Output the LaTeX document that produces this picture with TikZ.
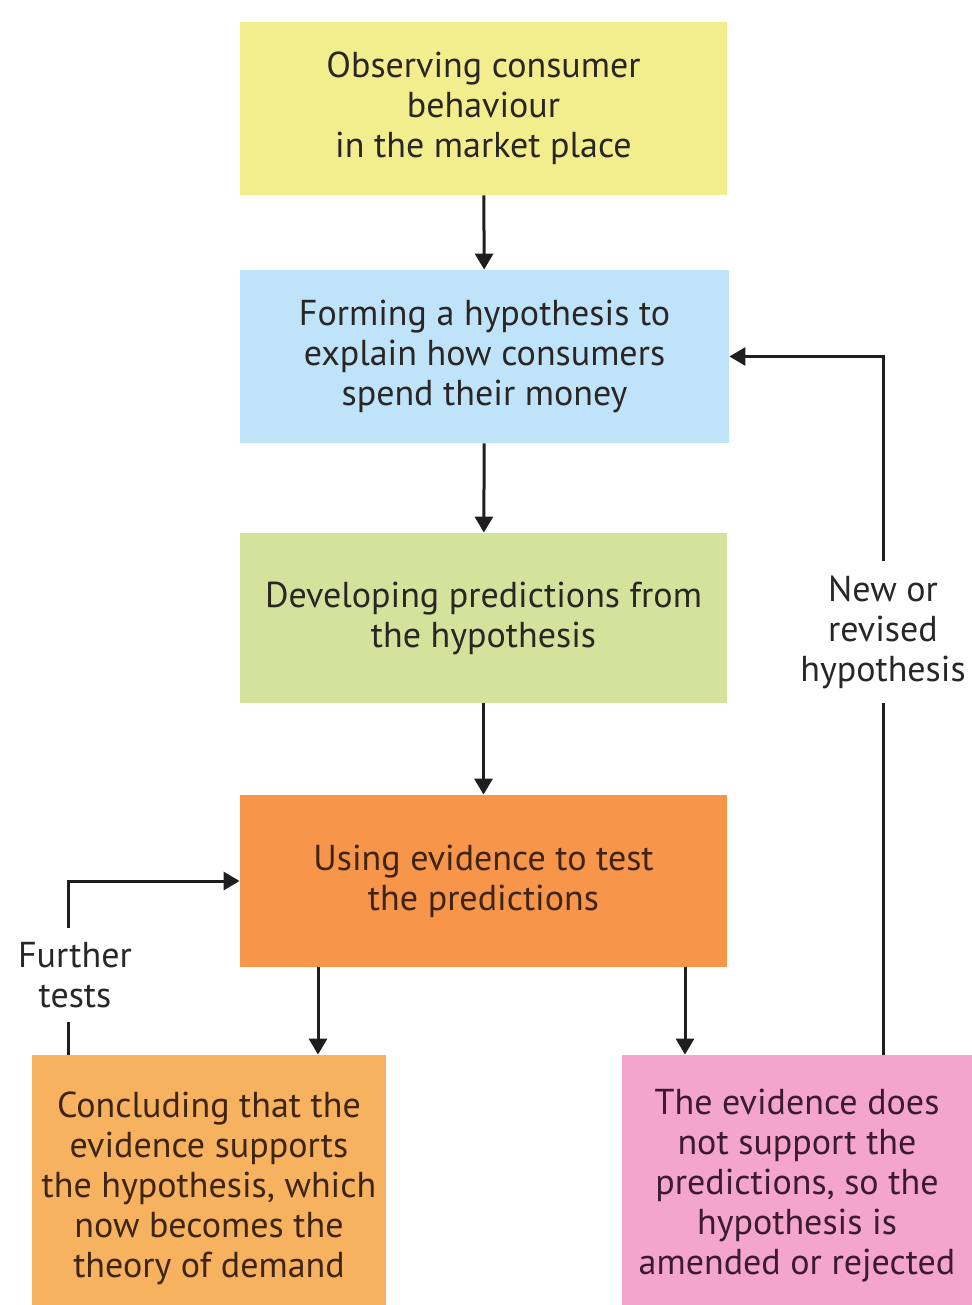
\documentclass[tikz,border=0pt]{standalone}
\usepackage{fontspec}
\setmainfont{PT Sans}
\usetikzlibrary{arrows.meta,calc}
\definecolor{cyel}{HTML}{F2EE8E}
\definecolor{cblu}{HTML}{BFE3F8}
\definecolor{cgrn}{HTML}{D5E29B}
\definecolor{corg}{HTML}{F7964A}
\definecolor{clor}{HTML}{F6B25E}
\definecolor{cpnk}{HTML}{F3A5CB}
\definecolor{ctxt}{HTML}{2A2626}
\definecolor{cbrn}{HTML}{3E2414}
\definecolor{cpur}{HTML}{3C1A30}
\definecolor{cline}{HTML}{1E1E1E}
\tikzset{
  box/.style={rectangle, draw=none, align=center, inner sep=0pt, text=ctxt,
    font=\fontsize{18}{20}\selectfont},
  lbl/.style={align=center, inner xsep=2pt, inner ysep=7pt, text=ctxt,
    font=\fontsize{18}{20}\selectfont},
  conn/.style={draw=cline, line width=1.5pt},
  arr/.style={conn, -{Triangle[length=8pt,width=9pt]}}
}
\begin{document}
\begin{tikzpicture}[x=0.5pt,y=-0.5pt]
\useasboundingbox (0,0) rectangle (972,1305);
\node[box, fill=cyel, minimum width=243.5pt, minimum height=86.5pt] (b1) at (483.5,108.5)
  {Observing consumer\\behaviour\\in the market place};
\node[box, fill=cblu, minimum width=244.5pt, minimum height=86.5pt] (b2) at (484.5,356.5)
  {Forming a hypothesis to\\explain how consumers\\spend their money};
\node[box, fill=cgrn, minimum width=243.5pt, minimum height=85pt] (b3) at (483.5,618)
  {Developing predictions from\\the hypothesis};
\node[box, fill=corg, text=cbrn, minimum width=243.5pt, minimum height=86pt] (b4) at (483.5,881)
  {Using evidence to test\\the predictions};
\node[box, fill=clor, text=cbrn, minimum width=177pt, minimum height=133pt] (b5) at (209,1188)
  {Concluding that the\\evidence supports\\the hypothesis, which\\now becomes the\\theory of demand};
\node[box, fill=cpnk, text=cpur, minimum width=175pt, minimum height=131pt] (b6) at (797,1186)
  {The evidence does\\not support the\\predictions, so the\\hypothesis is\\amended or rejected};
\node[lbl] (l1) at (883,632) {New or\\revised\\hypothesis};
\node[lbl] (l2) at (75,975) {Further\\tests};
\coordinate (rx) at (883,0);
\coordinate (lx) at (68,0);
\coordinate (ax) at (318,0);
\coordinate (bx) at (685,0);
\draw[arr] (b1) -- (b2);
\draw[arr] (b2) -- (b3);
\draw[arr] (b3) -- (b4);
\draw[arr] (b4.south -| ax) -- (b5.north -| ax);
\draw[arr] (b4.south -| bx) -- (b6.north -| bx);
\draw[conn] (b6.north -| rx) -- (rx |- l1.south);
\draw[arr] (rx |- l1.north) |- (b2.east);
\draw[conn] (b5.north -| lx) -- (lx |- l2.south);
\draw[arr] (lx |- l2.north) |- (b4.west);
\end{tikzpicture}
\end{document}
